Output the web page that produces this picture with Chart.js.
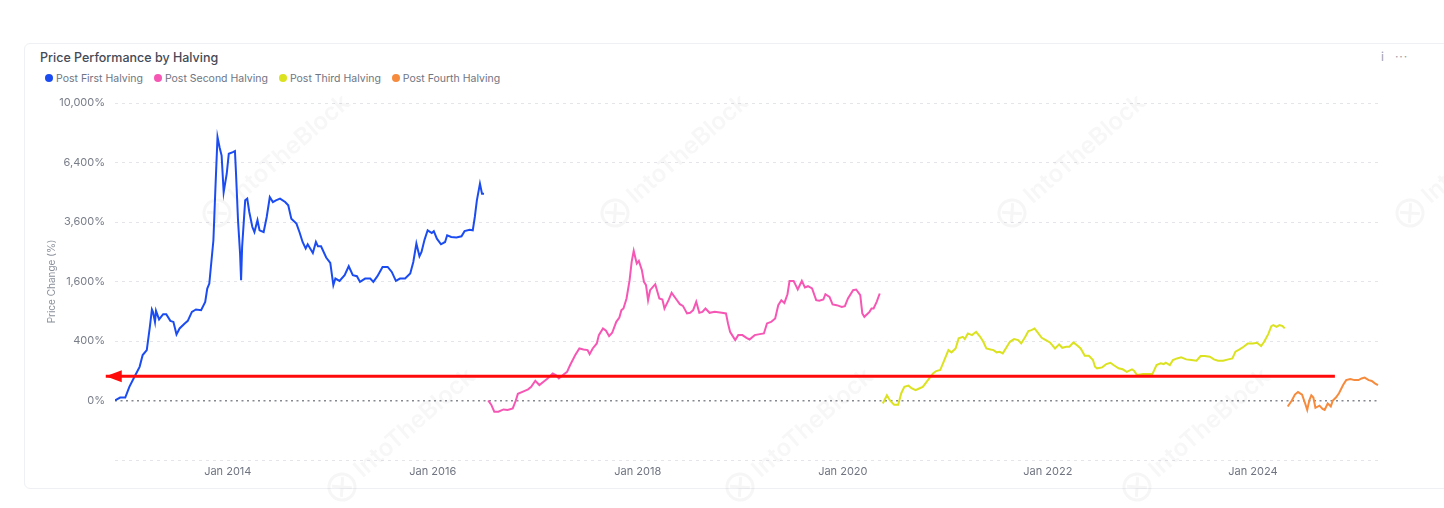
<!DOCTYPE html>
<html>
<head>
<meta charset="utf-8">
<script src="https://cdn.jsdelivr.net/npm/chart.js@4.4.1/dist/chart.umd.min.js"></script>
<style>
  html, body { margin: 0; padding: 0; background: #fff; overflow: hidden; }
  body { width: 1444px; height: 508px; position: relative; font-family: Inter, "Noto Sans", sans-serif; }
  .card { position: absolute; left: 24px; top: 43px; width: 1440px; height: 444px; border: 1px solid #eef0f3; border-radius: 6px; }
  .title { position: absolute; left: 40px; top: 49px; font-size: 12.5px; font-weight: 500; color: #454a56; line-height: 18px; white-space: nowrap; }
  #legend { position: absolute; left: 45px; top: 70px; height: 16px; display: flex; align-items: center; font-size: 10.5px; color: #6f7582; white-space: nowrap; }
  #legend .item { display: flex; align-items: center; margin-right: 11px; }
  #legend .dot { width: 8px; height: 8px; border-radius: 50%; margin-right: 3px; }
  .icons { position: absolute; top: 49px; left: 1381px; font-size: 12px; color: #9ba0a9; letter-spacing: 1px; }
  .icons span { margin-right: 10px; }
  #wrap { position: absolute; left: 0; top: 0; width: 1444px; height: 508px; }
</style>
</head>
<body>
<div class="card"></div>
<div class="title">Price Performance by Halving</div>
<div id="legend"></div>
<div class="icons"><span>i</span>···</div>
<div id="wrap"><canvas id="chart"></canvas></div>
<script>
// x values are decimal years, y values are price change in %
var firstYears = [2012.90, 2012.95, 2013.00, 2013.04, 2013.09, 2013.14, 2013.17, 2013.21, 2013.24, 2013.26,
  2013.27, 2013.29, 2013.30, 2013.33, 2013.37, 2013.40, 2013.44, 2013.47, 2013.50, 2013.53,
  2013.58, 2013.61, 2013.65, 2013.69, 2013.74, 2013.78, 2013.80, 2013.82, 2013.86, 2013.88,
  2013.90, 2013.92, 2013.94, 2013.96, 2013.99, 2014.01, 2014.05, 2014.07, 2014.08, 2014.10,
  2014.12, 2014.13, 2014.14, 2014.17, 2014.19, 2014.21, 2014.24, 2014.26, 2014.29, 2014.31,
  2014.35, 2014.38, 2014.41, 2014.44, 2014.47, 2014.51, 2014.56, 2014.59, 2014.62, 2014.67,
  2014.70, 2014.73, 2014.76, 2014.78, 2014.83, 2014.86, 2014.88, 2014.91, 2014.96, 2015.00,
  2015.03, 2015.05, 2015.09, 2015.14, 2015.18, 2015.22, 2015.26, 2015.29, 2015.34, 2015.39,
  2015.42, 2015.46, 2015.51, 2015.56, 2015.60, 2015.64, 2015.68, 2015.73, 2015.78, 2015.81,
  2015.84, 2015.87, 2015.89, 2015.92, 2015.95, 2015.99, 2016.01, 2016.04, 2016.08, 2016.12,
  2016.14, 2016.18, 2016.23, 2016.28, 2016.31, 2016.36, 2016.39, 2016.41, 2016.43, 2016.46, 2016.48, 2016.50];
var firstPct = [0, 1, 1, 21, 64, 128, 233, 287, 614, 936,
  888, 698, 907, 742, 842, 842, 717, 698, 493, 587,
  671, 717, 888, 936, 922, 1100, 1416, 1546, 2900, 5150,
  7840, 7250, 6780, 4905, 5810, 6880, 6970, 7030, 5890, 3670,
  2440, 1633, 2663, 4528, 4605, 4015, 3400, 3207, 3670, 3273,
  3207, 3805, 4678, 4450, 4528, 4605, 4450, 4303, 3736, 3537,
  3200, 2840, 2610, 2757, 2460, 2840, 2686, 2686, 2310, 2137,
  1503, 1680, 1615, 1773, 2037, 1773, 1746, 1590, 1680, 1680,
  1590, 1746, 2015, 2015, 1867, 1615, 1680, 1680, 1822, 2170,
  2785, 2352, 2493, 2926, 3273, 3170, 3240, 2960, 2757, 2840,
  3085, 3020, 3000, 3047, 3240, 3295, 3273, 3805, 4528, 5313, 4830, 4830];

var secondYears = [2016.54, 2016.57, 2016.60, 2016.64, 2016.69, 2016.73, 2016.78, 2016.81, 2016.83, 2016.88,
  2016.93, 2016.96, 2017.00, 2017.04, 2017.08, 2017.12, 2017.17, 2017.20, 2017.23, 2017.27,
  2017.31, 2017.34, 2017.39, 2017.43, 2017.47, 2017.51, 2017.53, 2017.56, 2017.60, 2017.62,
  2017.66, 2017.69, 2017.72, 2017.75, 2017.79, 2017.82, 2017.84, 2017.86, 2017.89, 2017.92,
  2017.94, 2017.96, 2017.98, 2017.99, 2018.01, 2018.04, 2018.06, 2018.08, 2018.10, 2018.12,
  2018.17, 2018.21, 2018.24, 2018.26, 2018.30, 2018.33, 2018.37, 2018.41, 2018.44, 2018.48,
  2018.51, 2018.54, 2018.57, 2018.60, 2018.63, 2018.66, 2018.70, 2018.75, 2018.82, 2018.86,
  2018.88, 2018.90, 2018.92, 2018.95, 2018.98, 2019.02, 2019.06, 2019.09, 2019.14, 2019.19,
  2019.23, 2019.26, 2019.30, 2019.34, 2019.37, 2019.40, 2019.43, 2019.46, 2019.48, 2019.52,
  2019.54, 2019.56, 2019.60, 2019.63, 2019.66, 2019.70, 2019.74, 2019.77, 2019.81, 2019.83,
  2019.87, 2019.90, 2019.94, 2019.99, 2020.02, 2020.05, 2020.10, 2020.13, 2020.17, 2020.19,
  2020.21, 2020.26, 2020.28, 2020.30, 2020.33, 2020.36];
var secondPct = [0, -2, -14, -14, -9, -10, -7, 0, 5, 9,
  14, 21, 44, 27, 40, 55, 83, 73, 55, 73,
  93, 142, 233, 306, 295, 287, 243, 306, 368, 483,
  587, 549, 468, 518, 699, 779, 922, 957, 1176, 1635,
  2170, 2528, 2245, 2118, 2200, 1918, 1590, 1503, 1137, 1375,
  1528, 1176, 1152, 957, 1137, 1309, 1176, 1049, 1012, 857,
  869, 922, 1100, 869, 888, 957, 869, 888, 869, 857,
  671, 533, 483, 412, 483, 483, 444, 421, 483, 498,
  508, 671, 698, 761, 1027, 1137, 1076, 1276, 1615, 1615,
  1503, 1392, 1615, 1443, 1476, 1418, 1137, 1123, 1152, 1276,
  1212, 1042, 1027, 990, 1005, 1176, 1375, 1392, 1253, 857,
  791, 888, 957, 957, 1100, 1294];

var thirdYears = [2020.39, 2020.43, 2020.46, 2020.50, 2020.54, 2020.57, 2020.60, 2020.64, 2020.67, 2020.71,
  2020.75, 2020.78, 2020.83, 2020.88, 2020.91, 2020.95, 2020.99, 2021.03, 2021.06, 2021.10,
  2021.13, 2021.17, 2021.19, 2021.22, 2021.26, 2021.30, 2021.34, 2021.37, 2021.40, 2021.44,
  2021.47, 2021.50, 2021.53, 2021.56, 2021.60, 2021.63, 2021.67, 2021.71, 2021.74, 2021.78,
  2021.81, 2021.84, 2021.87, 2021.90, 2021.94, 2021.98, 2022.02, 2022.07, 2022.11, 2022.14,
  2022.18, 2022.21, 2022.25, 2022.29, 2022.32, 2022.36, 2022.40, 2022.44, 2022.46,
  2022.48, 2022.53, 2022.57, 2022.61, 2022.64, 2022.69, 2022.73, 2022.77, 2022.82, 2022.84,
  2022.87, 2022.93, 2022.98, 2023.02, 2023.06, 2023.10, 2023.13, 2023.15, 2023.19, 2023.22,
  2023.26, 2023.30, 2023.35, 2023.40, 2023.45, 2023.49, 2023.53, 2023.58, 2023.62, 2023.66,
  2023.71, 2023.76, 2023.80, 2023.83, 2023.87, 2023.91, 2023.95, 2024.00, 2024.04, 2024.08,
  2024.11, 2024.15, 2024.18, 2024.20, 2024.23, 2024.26, 2024.29, 2024.31];
var thirdPct = [-1, 3, 0, -2, -2, 6, 21, 25, 17, 12,
  17, 21, 47, 83, 98, 105, 185, 287, 262, 306,
  436, 458, 426, 508, 483, 533, 458, 389, 306, 295,
  287, 262, 268, 251, 326, 389, 426, 412, 368, 458,
  544, 560, 587, 524, 444, 412, 381, 306, 356, 314,
  326, 326, 381, 338, 306, 226, 226, 185, 129,
  117, 124, 150, 161, 142, 117, 110, 93, 110, 100,
  73, 79, 79, 79, 142, 156, 150, 161, 142, 185,
  200, 210, 191, 185, 179, 223, 223, 216, 191, 179,
  179, 191, 200, 269, 295, 326, 368, 368, 376, 335,
  389, 498, 625, 642, 614, 642, 625, 587];

var fourthYears = [2024.34, 2024.38, 2024.41, 2024.44, 2024.48, 2024.51, 2024.53, 2024.55, 2024.57, 2024.59,
  2024.61, 2024.65, 2024.68, 2024.70, 2024.73, 2024.76, 2024.78, 2024.81, 2024.84, 2024.88,
  2024.91, 2024.95, 2024.99, 2025.03, 2025.06, 2025.09, 2025.13, 2025.16, 2025.19, 2025.22];
var fourthPct = [-4, 0, 4, 8, 4, -1, -10, 0, 3, 1,
  -6, -3, -8, -10, -1, -4, 0, 1, 6, 27,
  47, 52, 47, 47, 55, 59, 47, 43, 33, 27];

// the red arrow drawn over the chart (start and end, tip on the left)
var arrowYears = [2012.81, 2024.80];
var arrowPct = [67, 67];

var seriesNames = ["Post First Halving", "Post Second Halving", "Post Third Halving", "Post Fourth Halving"];
var seriesColors = ["#1b4cf2", "#f657b4", "#dbe21f", "#f78b3d"];
var yTickValues = [-400, 0, 400, 1600, 3600, 6400, 10000];
var xTickYears = [2014, 2016, 2018, 2020, 2022, 2024];

function pts(xs, ys) {
  return xs.map(function (x, i) { return { x: x, y: ys[i] }; });
}

// square root axis (signed), so 0, 400, 1600, 3600 ... are evenly spaced
function sq(v) { return Math.sign(v) * Math.sqrt(Math.abs(v)); }
const LinearScale = Chart.LinearScale || Chart.registry.getScale('linear');
class SqrtScale extends LinearScale {
  static id = 'sqrt';
  static defaults = {};
  buildTicks() {
    return yTickValues.map(v => ({ value: v }));
  }
  configure() {
    super.configure();
    this._sStart = sq(this.min);
    this._sEnd = sq(this.max);
  }
  getPixelForValue(v) {
    if (v === null || isNaN(v)) return NaN;
    return this.getPixelForDecimal((sq(v) - this._sStart) / (this._sEnd - this._sStart));
  }
  getValueForPixel(p) {
    const s = this._sStart + this.getDecimalForPixel(p) * (this._sEnd - this._sStart);
    return Math.sign(s) * s * s;
  }
}
Chart.register(SqrtScale);

const arrowHead = {
  id: 'arrowHead',
  afterDatasetsDraw(chart) {
    const i = chart.data.datasets.findIndex(d => d.arrow);
    const p = chart.getDatasetMeta(i).data[0];
    const ctx = chart.ctx;
    ctx.save();
    ctx.fillStyle = chart.data.datasets[i].borderColor;
    ctx.beginPath();
    ctx.moveTo(p.x, p.y);
    ctx.lineTo(p.x + 16, p.y - 6);
    ctx.lineTo(p.x + 16, p.y + 6);
    ctx.closePath();
    ctx.fill();
    ctx.restore();
  }
};

// faint IntoTheBlock watermarks behind the lines
const watermark = {
  id: 'watermark',
  beforeDatasetsDraw(chart) {
    const ctx = chart.ctx;
    const spots = [[217, 213], [615, 213], [1012, 213], [1410, 213], [342, 487], [740, 487], [1137, 487]];
    ctx.save();
    ctx.fillStyle = 'rgba(40,45,60,0.04)';
    ctx.strokeStyle = 'rgba(40,45,60,0.045)';
    ctx.lineWidth = 3;
    ctx.font = '600 24px Inter';
    ctx.textBaseline = 'middle';
    spots.forEach(function (s) {
      ctx.save();
      ctx.translate(s[0], s[1]);
      ctx.rotate(-0.72);
      ctx.beginPath();
      ctx.arc(0, 0, 13, 0, Math.PI * 2);
      ctx.stroke();
      ctx.beginPath();
      ctx.moveTo(-7, -7); ctx.lineTo(7, 7);
      ctx.moveTo(-7, 7); ctx.lineTo(7, -7);
      ctx.stroke();
      ctx.fillText('IntoTheBlock', 21, 0);
      ctx.restore();
    });
    ctx.restore();
  }
};

const htmlLegend = {
  id: 'htmlLegend',
  afterUpdate(chart) {
    const box = document.getElementById('legend');
    box.innerHTML = '';
    chart.data.datasets.filter(d => !d.arrow).forEach(function (d) {
      const item = document.createElement('div');
      item.className = 'item';
      const dot = document.createElement('span');
      dot.className = 'dot';
      dot.style.background = d.borderColor;
      const txt = document.createElement('span');
      txt.textContent = d.label;
      item.appendChild(dot);
      item.appendChild(txt);
      box.appendChild(item);
    });
  }
};

var allYears = [firstYears, secondYears, thirdYears, fourthYears];
var allPct = [firstPct, secondPct, thirdPct, fourthPct];
var datasets = [{
  label: 'arrow',
  arrow: true,
  data: pts(arrowYears, arrowPct),
  borderColor: '#ff0a0a',
  borderWidth: 3,
  clip: false,
  order: 0
}];
seriesNames.forEach(function (name, i) {
  datasets.push({
    label: name,
    data: pts(allYears[i], allPct[i]),
    borderColor: seriesColors[i],
    backgroundColor: seriesColors[i],
    borderWidth: 2,
    order: 1
  });
});

var axisFont = { family: 'Inter', size: 11 };

new Chart('chart', {
  type: 'line',
  data: { datasets: datasets },
  options: {
    responsive: true,
    maintainAspectRatio: false,
    animation: false,
    layout: { padding: { left: 41, right: 64, top: 103, bottom: 22 } },
    elements: { point: { radius: 0 }, line: { tension: 0 } },
    plugins: { legend: { display: false }, tooltip: { enabled: false } },
    scales: {
      x: {
        type: 'linear',
        min: 2012.90,
        max: 2025.24,
        grid: { display: false },
        border: { display: false },
        afterBuildTicks: function (scale) { scale.ticks = xTickYears.map(v => ({ value: v })); },
        afterFit: function (scale) { scale.height = 26; },
        ticks: {
          autoSkip: false, maxRotation: 0, padding: -3,
          color: '#6f7480', font: axisFont,
          callback: function (v) { return 'Jan ' + v; }
        }
      },
      y: {
        type: 'sqrt',
        min: -400,
        max: 10000,
        afterFit: function (scale) { scale.width = 74; },
        grid: {
          drawTicks: false,
          color: function (c) { return c.tick && c.tick.value === 0 ? '#85898f' : '#e3e5e9'; },
          lineWidth: function (c) { return c.tick && c.tick.value === 0 ? 1.5 : 1; }
        },
        border: {
          display: false,
          dash: function (c) { return c.tick && c.tick.value === 0 ? [2, 3.5] : [3, 4]; }
        },
        ticks: {
          padding: 10, color: '#787d88', font: axisFont,
          callback: function (v) { return v < 0 ? '' : v.toLocaleString('en-US') + '%'; }
        },
        title: {
          display: true, text: 'Price Change (%)', color: '#8a8f99',
          font: { family: 'Inter', size: 10 }, padding: { top: 5, bottom: 0 }
        }
      }
    }
  },
  plugins: [watermark, arrowHead, htmlLegend]
});
</script>
</body>
</html>
